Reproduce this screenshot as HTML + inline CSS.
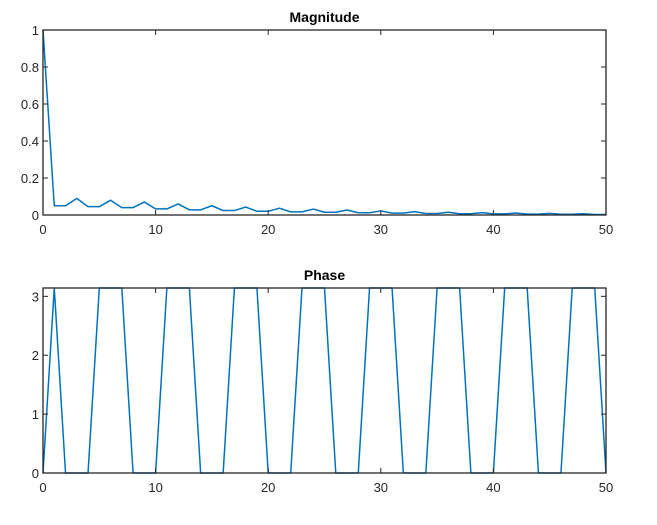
<!DOCTYPE html>
<html><head><meta charset="utf-8"><style>
body{margin:0;background:#fff;}
svg text{font-family:"Liberation Sans",Arial,sans-serif;}
</style></head><body>
<svg id="fig" width="657" height="520" xmlns="http://www.w3.org/2000/svg"></svg>
<script>
const xTicks=[0,10,20,30,40,50];
const magTicks=[0,0.2,0.4,0.6,0.8,1];
const magTickLabels=["0","0.2","0.4","0.6","0.8","1"];
const phaseTicks=[0,1,2,3];
const magValues=[1,0.05,0.05,0.09,0.045,0.045,0.08,0.04,0.04,0.07,0.033,0.033,0.06,0.028,0.028,0.05,0.024,0.024,0.043,0.02,0.02,0.037,0.017,0.017,0.032,0.015,0.015,0.027,0.012,0.012,0.022,0.01,0.01,0.018,0.008,0.008,0.015,0.007,0.007,0.013,0.006,0.006,0.011,0.005,0.005,0.009,0.004,0.004,0.007,0.003,0.003];
const P=Math.PI;
const phaseValues=[0,P,0,0,0,P,P,P,0,0,0,P,P,P,0,0,0,P,P,P,0,0,0,P,P,P,0,0,0,P,P,P,0,0,0,P,P,P,0,0,0,P,P,P,0,0,0,P,P,P,0];
const NS="http://www.w3.org/2000/svg";
const svg=document.getElementById('fig');
function mk(t,a,p){const e=document.createElementNS(NS,t);for(const k in a)e.setAttribute(k,a[k]);(p||svg).appendChild(e);return e;}
function drawAxes(name,top,bottom,ymax,yt,ytl,vals,title){
  const L=43,R=606;
  const g=mk('g',{});
  
  
  const sx=v=>L+(v/50)*(R-L);
  const sy=v=>bottom-(v/ymax)*(bottom-top);
  const bg=mk('rect',{x:L,y:top,width:R-L,height:bottom-top,fill:'#fff'},g);
  
  
  const pts=vals.map((v,i)=>sx(i).toFixed(2)+','+sy(v).toFixed(2)).join(' ');
  const line=mk('polyline',{points:pts,fill:'none',stroke:'#0072bd',"stroke-width":1.5,"stroke-linejoin":"round"},g);
  
  
  const box=mk('rect',{x:L,y:top,width:R-L,height:bottom-top,fill:'none',stroke:'#262626',"stroke-width":1.3},g);
  
  
  xTicks.forEach(t=>{
    const x=sx(t);
    mk('line',{x1:x,y1:bottom,x2:x,y2:bottom-5,stroke:'#262626'},g);
    mk('line',{x1:x,y1:top,x2:x,y2:top+5,stroke:'#262626'},g);
    const tx=mk('text',{x:x,y:bottom+19,"font-size":13,fill:'#262626',"text-anchor":'middle'},g);
    tx.textContent=t;
    
    
  });
  yt.forEach((t,i)=>{
    const y=sy(t);
    mk('line',{x1:L,y1:y,x2:L+5,y2:y,stroke:'#262626'},g);
    mk('line',{x1:R,y1:y,x2:R-5,y2:y,stroke:'#262626'},g);
    const tx=mk('text',{x:L-4,y:y+5,"font-size":13,fill:'#262626',"text-anchor":'end'},g);
    tx.textContent=ytl[i];
    
    
  });
  const tt=mk('text',{x:(L+R)/2,y:top-8,"font-size":14,"font-weight":'bold',fill:'#000',"text-anchor":'middle'},g);
  tt.textContent=title;
  
  
}
drawAxes('magnitude-plot',30,215,1,magTicks,magTickLabels,magValues,'Magnitude');
drawAxes('phase-plot',288,473,Math.PI,phaseTicks,phaseTicks.map(String),phaseValues,'Phase');
</script>
</body></html>
